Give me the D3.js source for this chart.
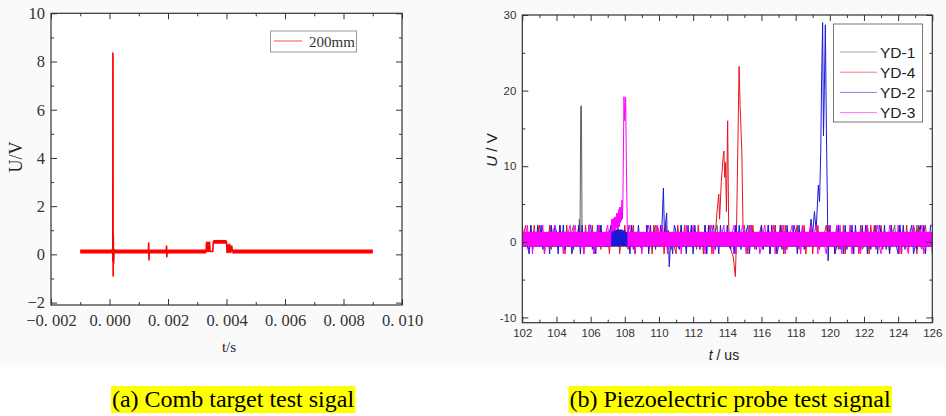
<!DOCTYPE html>
<html><head><meta charset="utf-8">
<script src="https://cdn.jsdelivr.net/npm/d3@7"></script>
<style>body{margin:0;background:#fff} svg{display:block}</style>
</head><body>
<svg id="chart" width="946" height="416"></svg>
<script>
// ---- (a) comb target signal, [t (s), U (V)]
var combSignal = [
  [-0.001, 0.12], [-0.0005, 0.13], [0, 0.12], [0.0001, 0.12], [0.00011, 0.3], [0.000113, -0.3],
  [0.000116, 8.35], [0.00012, 8.1], [0.000124, -0.9], [0.00013, 0.8], [0.00014, -0.4], [0.00016, 0.2],
  [0.0002, 0.12], [0.0008, 0.13], [0.00133, 0.12], [0.00134, 0.47], [0.00135, -0.23], [0.00136, 0.12],
  [0.0016, 0.12], [0.00194, 0.12], [0.00195, 0.35], [0.00196, -0.1], [0.00197, 0.12], [0.0025, 0.12],
  [0.0031, 0.11], [0.0033, 0.12], [0.00332, 0.5], [0.00334, 0.12], [0.00337, 0.5], [0.00339, 0.12],
  [0.00342, 0.5], [0.00344, 0.12], [0.00353, 0.12], [0.00355, 0.52], [0.0038, 0.52], [0.004, 0.52],
  [0.00402, 0.08], [0.00405, 0.4], [0.00408, 0.08], [0.00411, 0.42], [0.00414, 0.08], [0.00418, 0.35],
  [0.0042, 0.12], [0.005, 0.12], [0.006, 0.13], [0.0075, 0.12], [0.009, 0.12]
]
// the thick (noisy) parts of the trace: baseline and plateau
var combBand = [
  [[-0.001, 0.12], [0.0001, 0.12]],
  [[0.00016, 0.12], [0.0033, 0.12]],
  [[0.00355, 0.52], [0.004, 0.52]],
  [[0.0042, 0.12], [0.009, 0.12]]
]
var combName = '200mm'
var xTicksA = [-0.002, 0, 0.002, 0.004, 0.006, 0.008, 0.010]
var xTickLabelsA = ['\u22120. 002', '0. 000', '0. 002', '0. 004', '0. 006', '0. 008', '0. 010']
var xMinorA = [-0.001, 0.001, 0.003, 0.005, 0.007, 0.009]
var yTicksA = [-2, 0, 2, 4, 6, 8, 10]
var yMinorA = [-1, 1, 3, 5, 7, 9]

// ---- (b) piezoelectric probes
var probeNames = ['YD-1', 'YD-4', 'YD-2', 'YD-3']
var probeColors = ['#606060', '#e8141c', '#1a1ad6', '#ff00ff']
// dense noise core of each trace (V) and where it is present (us)
var coreLow = -0.6, coreHigh = 1.3
var coreSpans = [
  [[102, 126]],
  [[102, 126]],
  [[102, 126]],
  [[102, 107.2], [108.15, 126]]
]
// quantised noise levels (V) and per-sample level index, one sample each 0.1 us from 102 us
var noiseLevels = [-1.6, -1.0, -0.6, 0.2, 0.8, 1.3, 1.8, 2.2]
var noiseYD1 = '2525272525525252572525252525257252525252525252725225252525255272525252252525257252525252522527252525525252525225257252525252525252725252525252525252725252525252572525252525252525272525252525252525252525725252252525252572525252525527252525252525252525252525252'
var noiseYD4 = '2572152725725052715252725072521527250725270527152550725270527215270525252715072752707251520725271527251725072570527152705271507252250727152571527052715270715252271527052705271525727250715270527152507125707271527152507252270527152750721572522715270525'
var noiseYD2 = '7252071527271525072750727152502527071527715072725225715270507250715272152707251527052715075217250727072515270725715072527215072715257072515271527072502715072527507271520725271507277250271507152707251727051527075271507252072715257021572705277250715272'
var noiseYD3 = '2527250525527052525725250525725725250527250257252572525052725257250525052572525725725052525250527252725252505257052525722525705257505272525025725257052527052572525072525725705252057252727052527052520525725225720525275252705252052725257025250725255272505252'
// peak segments [t (us), U (V)]
var peaksYD1 = [
  [[105.3, 0.5], [105.34, 3.0], [105.38, 1.0], [105.42, 17.9], [105.46, 18.0], [105.5, 0.6]]
]
var peaksYD4 = [
  [[113.3, 1.0], [113.4, 4.0], [113.5, 6.3], [113.55, 3.0], [113.65, 8.0], [113.75, 11.0], [113.8, 12.0],
   [113.85, 8.5], [113.9, 10.5], [113.95, 4.0], [114.02, 16.0], [114.08, 2.0], [114.2, -1.0], [114.35, -2.0],
   [114.47, -4.6], [114.52, -1.0], [114.6, 10.0], [114.69, 23.2], [114.75, 18.0], [114.85, 12.0], [114.92, 2.0]]
]
var peaksYD2 = [
  [[107.25, -0.3], [107.28, 1.5], [107.31, -0.3], [107.34, 1.5], [107.37, -0.3], [107.4, 1.6], [107.43, -0.4],
   [107.46, 1.6], [107.49, -0.3], [107.52, 1.6], [107.55, -0.4], [107.58, 1.6], [107.61, -0.3], [107.64, 1.6],
   [107.67, -0.4], [107.7, 1.6], [107.73, -0.3], [107.76, 1.6], [107.79, -0.4], [107.82, 1.6], [107.85, -0.3],
   [107.88, 1.5], [107.91, -0.3], [107.94, 1.5], [107.97, -0.3], [108.0, 1.5], [108.03, -0.3]],
  [[110.15, 0.5], [110.26, 7.1], [110.32, 1.0], [110.45, 3.8], [110.5, -1.0], [110.55, 1.5], [110.6, -3.3], [110.65, -1.2], [110.7, 0.5]],
  [[118.8, 0.5], [118.9, 3.0], [119.0, 1.0], [119.1, 4.0], [119.2, 1.5], [119.33, 7.5], [119.4, 5.3], [119.47, 12.0],
   [119.52, 21.4], [119.58, 29.0], [119.63, 14.0], [119.68, 20.0], [119.74, 28.7], [119.8, 15.0], [119.86, 5.0],
   [119.9, -2.5], [119.95, 0.5]]
]
var peaksYD3 = [
  [[107.2, 1.3], [107.23, 3.0], [107.26, 1.3], [107.29, 3.0], [107.32, 1.5], [107.35, 3.1], [107.38, 1.5],
   [107.41, 3.3], [107.44, 1.5], [107.47, 3.3], [107.5, 1.8], [107.53, 3.8], [107.56, 1.8], [107.59, 3.8],
   [107.62, 2.0], [107.65, 4.3], [107.68, 2.0], [107.71, 4.6], [107.74, 2.5], [107.77, 4.6], [107.8, 2.8],
   [107.83, 5.5], [107.86, 3.0], [107.89, 5.6], [107.92, 12.0], [107.95, 19.2], [108.0, 16.0], [108.05, 19.1],
   [108.1, 9.0], [108.15, 1.3]]
]
var xTicksB = [102, 104, 106, 108, 110, 112, 114, 116, 118, 120, 122, 124, 126]
var xMinorB = [103, 105, 107, 109, 111, 113, 115, 117, 119, 121, 123, 125]
var yTicksB = [-10, 0, 10, 20, 30]
var yMinorB = [-5, 5, 15, 25]

var captions = ['(a) Comb target test sigal', '(b) Piezoelectric probe test signal']

var svg = d3.select('#chart')
svg.append('rect').attr('width', 946).attr('height', 367).attr('fill', '#fafafa')

function frameAxes(g, x, y, o) {
  var x0 = x.range()[0], x1 = x.range()[1], y0 = o.bottom, y1 = o.top
  function put(axis, tr) { var a = g.append('g').attr('transform', tr).call(axis); a.select('.domain').remove(); a.selectAll('line').attr('stroke', '#333'); return a }
  var bot = put(d3.axisBottom(x).tickValues(o.xt).tickSize(-6).tickPadding(o.xpad).tickFormat(o.xf), 'translate(0,' + y0 + ')')
  put(d3.axisBottom(x).tickValues(o.xm).tickSize(-3).tickFormat(''), 'translate(0,' + y0 + ')')
  put(d3.axisTop(x).tickValues(o.xt).tickSize(-6).tickFormat(''), 'translate(0,' + y1 + ')')
  put(d3.axisTop(x).tickValues(o.xm).tickSize(-3).tickFormat(''), 'translate(0,' + y1 + ')')
  var lef = put(d3.axisLeft(y).tickValues(o.yt).tickSize(-6).tickPadding(6).tickFormat(o.yf), 'translate(' + x0 + ',0)')
  put(d3.axisLeft(y).tickValues(o.ym).tickSize(-3).tickFormat(''), 'translate(' + x0 + ',0)')
  put(d3.axisRight(y).tickValues(o.yt).tickSize(-6).tickFormat(''), 'translate(' + x1 + ',0)')
  put(d3.axisRight(y).tickValues(o.ym).tickSize(-3).tickFormat(''), 'translate(' + x1 + ',0)')
  ;[bot, lef].forEach(function(a) {
    a.selectAll('text').attr('font-family', o.font).attr('font-size', o.fs).attr('fill', '#333')
  })
  g.append('rect').attr('x', x0).attr('y', y1).attr('width', x1 - x0).attr('height', y0 - y1)
    .attr('fill', 'none').attr('stroke', '#333').attr('stroke-width', 1.2)
}

// ---------- panel (a)
var xA = d3.scaleLinear().domain([-0.002, 0.010]).range([51, 402])
var yA = d3.scaleLinear().domain([-2.1, 10]).range([305, 13.3])
var gA = svg.append('g')
gA.append('rect').attr('x', 51).attr('y', 13.3).attr('width', 351).attr('height', 291.7).attr('fill', '#fff')
frameAxes(gA, xA, yA, { top: 13.3, bottom: 305, xt: xTicksA, xm: xMinorA, yt: yTicksA, ym: yMinorA, xpad: 9,
  xf: function(d, i) { return xTickLabelsA[i] }, yf: d3.format('d'), font: 'Liberation Serif', fs: 16.5 })
var lineA = d3.line().x(function(d) { return xA(d[0]) }).y(function(d) { return yA(d[1]) })
gA.append('path').datum(combSignal).attr('d', lineA).attr('fill', 'none')
  .attr('stroke', '#ff0000').attr('stroke-width', 1.6).attr('stroke-linejoin', 'round')
gA.append('g').selectAll('path').data(combBand).join('path').attr('d', lineA).attr('fill', 'none')
  .attr('stroke', '#ff0000').attr('stroke-width', 3.8)
// legend
gA.append('rect').attr('x', 270.5).attr('y', 31).attr('width', 86).attr('height', 21)
  .attr('fill', '#fff').attr('stroke', '#999')
gA.append('line').attr('x1', 274).attr('x2', 302).attr('y1', 41).attr('y2', 41)
  .attr('stroke', '#ff5050').attr('stroke-width', 1)
gA.append('text').attr('x', 309).attr('y', 47).text(combName)
  .attr('font-family', 'Liberation Serif').attr('font-size', 15).attr('fill', '#333')
gA.append('text').attr('transform', 'translate(22,157) rotate(-90)').attr('text-anchor', 'middle')
  .attr('font-family', 'Liberation Serif').attr('font-size', 18).attr('fill', '#222').text('U/V')
gA.append('text').attr('x', 229).attr('y', 352).attr('text-anchor', 'middle')
  .attr('font-family', 'Liberation Serif').attr('font-size', 15).attr('fill', '#222').text('t/s')

// ---------- panel (b)
var xB = d3.scaleLinear().domain([102, 126]).range([522.3, 932.3])
var yB = d3.scaleLinear().domain([-10.7, 30]).range([322.7, 15])
var gB = svg.append('g')
gB.append('rect').attr('x', 522.3).attr('y', 15).attr('width', 410).attr('height', 307.7).attr('fill', '#fff')
gB.append('clipPath').attr('id', 'plotB').append('rect')
  .attr('x', 522.3).attr('y', 15).attr('width', 410).attr('height', 307.7)

function buildSeries(noise, groups) {
  var pts = []
  for (var i = 0; i < noise.length; i++) {
    var t = 102 + i * 0.1
    var inPeak = groups.some(function(g) { return t >= g[0][0] && t <= g[g.length - 1][0] })
    if (!inPeak) pts.push([t, noiseLevels[+noise[i]]])
  }
  groups.forEach(function(g) { g.forEach(function(p) { pts.push(p) }) })
  pts.sort(function(a, b) { return a[0] - b[0] })
  return pts
}
var probeSeries = [
  buildSeries(noiseYD1, peaksYD1),
  buildSeries(noiseYD4, peaksYD4),
  buildSeries(noiseYD2, peaksYD2),
  buildSeries(noiseYD3, peaksYD3)
]
var lineB = d3.line().x(function(d) { return xB(d[0]) }).y(function(d) { return yB(d[1]) })
var traces = gB.append('g').attr('clip-path', 'url(#plotB)').selectAll('g').data(probeSeries).join('g')
traces.each(function(d, i) {
  var tg = d3.select(this)
  coreSpans[i].forEach(function(s) {
    tg.append('rect').attr('x', xB(s[0])).attr('width', xB(s[1]) - xB(s[0]))
      .attr('y', yB(coreHigh)).attr('height', yB(coreLow) - yB(coreHigh)).attr('fill', probeColors[i])
  })
  tg.append('path').datum(d).attr('d', lineB).attr('fill', 'none').attr('stroke-width', 1)
    .attr('stroke', probeColors[i])
})

frameAxes(gB, xB, yB, { top: 15, bottom: 322.7, xt: xTicksB, xm: xMinorB, yt: yTicksB, ym: yMinorB, xpad: 6,
  xf: d3.format('d'), yf: function(d) { return String(d) }, font: 'Liberation Sans', fs: 11.5 })

// legend
var lg = gB.append('g')
lg.append('rect').attr('x', 833.5).attr('y', 24).attr('width', 89).attr('height', 98)
  .attr('fill', '#fff').attr('stroke', '#777')
probeNames.forEach(function(n, i) {
  var yy = 52 + i * 20.2
  lg.append('line').attr('x1', 840).attr('x2', 877).attr('y1', yy).attr('y2', yy)
    .attr('stroke', probeColors[i]).attr('stroke-opacity', 0.55).attr('stroke-width', 1)
  lg.append('text').attr('x', 880).attr('y', yy + 5.5).text(n)
    .attr('font-family', 'Liberation Sans').attr('font-size', 15.5).attr('fill', '#222')
})
var yl = gB.append('text').attr('transform', 'translate(497,150) rotate(-90)').attr('text-anchor', 'middle')
  .attr('font-family', 'Liberation Sans').attr('font-size', 15).attr('fill', '#222')
yl.append('tspan').attr('font-style', 'italic').text('U')
yl.append('tspan').text(' / V')
var xl = gB.append('text').attr('x', 724).attr('y', 360).attr('text-anchor', 'middle')
  .attr('font-family', 'Liberation Sans').attr('font-size', 14).attr('fill', '#222')
xl.append('tspan').attr('font-style', 'italic').text('t')
xl.append('tspan').text(' /  us')

// ---------- captions
var capX = [233, 730]
captions.forEach(function(c, i) {
  var t = svg.append('text').attr('x', capX[i]).attr('y', 407).attr('text-anchor', 'middle')
    .attr('font-family', 'Liberation Serif').attr('font-size', 24).attr('fill', '#000').text(c)
  var bb = t.node().getBBox()
  svg.insert('rect', function() { return t.node() }).attr('x', bb.x - 1).attr('y', 386)
    .attr('width', bb.width + 2).attr('height', 27).attr('fill', '#ffff00')
})
</script>
</body></html>
